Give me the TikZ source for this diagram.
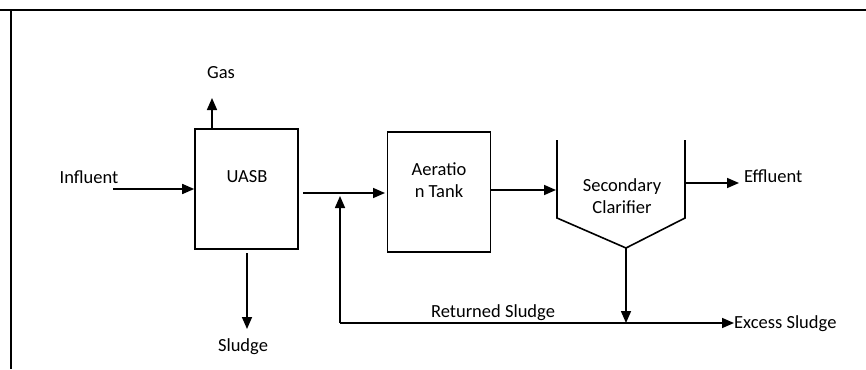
\documentclass[tikz,border=0pt]{standalone}
\usepackage{fontspec}
\setmainfont{Carlito}
\usetikzlibrary{arrows.meta}
\begin{document}
\begin{tikzpicture}[x=1pt,y=-1pt,
  flow/.style={line width=1.6pt,-{Triangle[length=12pt,width=10pt]}},
  plain/.style={line width=1.6pt},
  unit/.style={draw,line width=1.6pt,minimum width=103pt,minimum height=120pt,inner sep=0pt},
  lbl/.style={font=\fontsize{18.5}{22.5}\selectfont,inner sep=1pt},
  frame/.style={line width=2.2pt}]
\useasboundingbox (0,0) rectangle (866,369);
% frame
\draw[frame] (0,10) -- (866,10);
\draw[frame] (11,10) -- (11,369);
% boxes
\node[unit] (uasb) at (246.5,189) {};
\node[lbl] (uasbt) at (247,177) {UASB};
\node[unit] (aer) at (439,192) {};
\node[lbl,align=center] (aert) at (439,180) {Aeratio\\n Tank};
% clarifier
\coordinate (cl1) at (557,140);
\coordinate (cl2) at (557,218);
\coordinate (clb) at (626,248);
\coordinate (cr2) at (685,218);
\coordinate (cr1) at (685,140);
\draw[plain,line join=miter] (cl1) -- (cl2) -- (clb) -- (cr2) -- (cr1);
\node[lbl,align=center] (clt) at (622,196) {Secondary\\Clarifier};
% labels
\node[lbl] (infl) at (89,177) {Influent};
\node[lbl] (gas) at (221,73) {Gas};
\node[lbl] (sludge) at (243,347) {Sludge};
\node[lbl,anchor=west] (effl) at (743,176) {Effluent};
\node[lbl,anchor=west] (exc) at (733,324) {Excess Sludge};
\node[lbl] (ret) at (493,313) {Returned Sludge};
% coordinates
\coordinate (inA) at (113,189);
\coordinate (gasA) at (212,129);
\coordinate (gasB) at (212,98);
\coordinate (slA) at (247,253);
\coordinate (slB) at (247,329);
\coordinate (uaOut) at (303,193);
\coordinate (aeIn) at (385,193);
\coordinate (retJ) at (340,196);
\coordinate (retC) at (340,323);
\coordinate (aeOut) at (491,190);
\coordinate (clIn) at (556,190);
\coordinate (efA) at (685,183);
\coordinate (efB) at (739,183);
\coordinate (clDown) at (626,323);
\coordinate (exB) at (734,323);
% arrows
\draw[flow] (inA) -- (inA -| uasb.west);
\draw[flow] (gasA) -- (gasB);
\draw[flow] (slA) -- (slB);
\draw[flow] (uaOut) -- (aeIn);
\draw[flow] (retC) -- (retJ);
\draw[flow] (retC) -- (exB);
\draw[flow] (aeOut) -- (clIn);
\draw[flow] (efA) -- (efB);
\draw[flow] (clb) -- (clDown);
\end{tikzpicture}
\end{document}
